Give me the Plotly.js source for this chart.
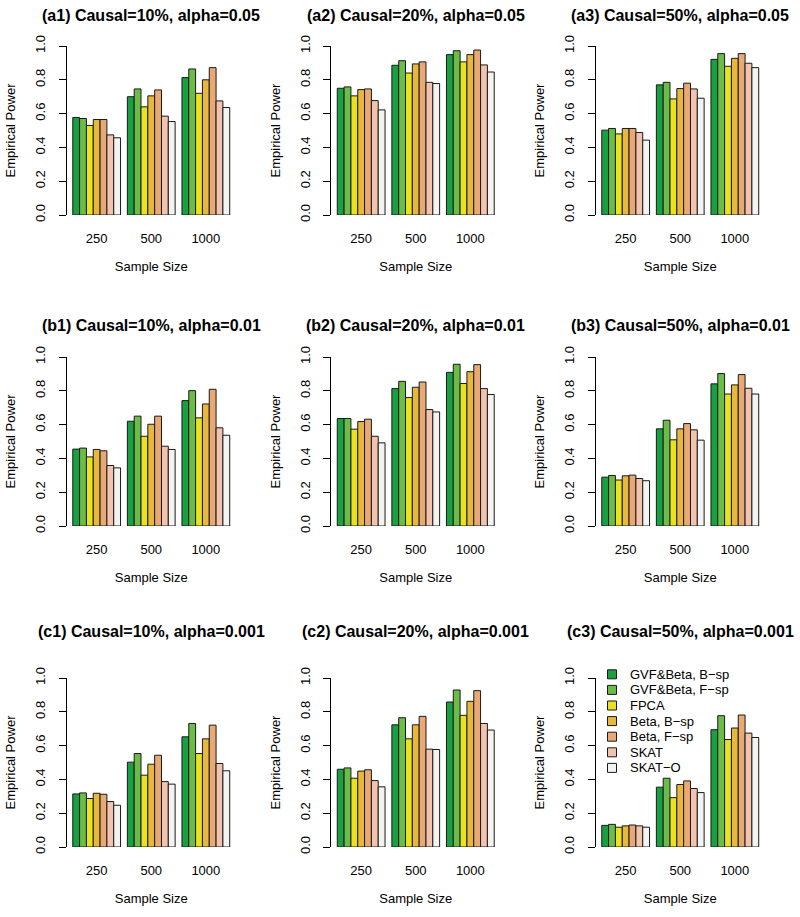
<!DOCTYPE html>
<html>
<head>
<meta charset="utf-8">
<script src="https://cdn.plot.ly/plotly-3.0.1.min.js"></script>
<style>html,body{margin:0;padding:0;background:#fff;}#chart{width:800px;height:917px;}</style>
</head>
<body>
<div id="chart"></div>
<script>
// ---------- data ----------
const sampleSizes = ["250", "500", "1000"];
const methods = ["GVF&Beta, B\u2212sp", "GVF&Beta, F\u2212sp", "FPCA", "Beta, B\u2212sp", "Beta, F\u2212sp", "SKAT", "SKAT\u2212O"];
const colors = ["#19a040", "#6cbd48", "#e8e31e", "#e8b83e", "#e9a975", "#f2c3ae", "#f3f3f1"];
const yTicks = [0, 0.2, 0.4, 0.6, 0.8, 1.0];
const yTickText = ["0.0", "0.2", "0.4", "0.6", "0.8", "1.0"];

const panelTitles = [
  "(a1) Causal=10%, alpha=0.05", "(a2) Causal=20%, alpha=0.05", "(a3) Causal=50%, alpha=0.05",
  "(b1) Causal=10%, alpha=0.01", "(b2) Causal=20%, alpha=0.01", "(b3) Causal=50%, alpha=0.01",
  "(c1) Causal=10%, alpha=0.001", "(c2) Causal=20%, alpha=0.001", "(c3) Causal=50%, alpha=0.001"
];

// each panel: one row per method, values for sample sizes 250, 500, 1000
const a1 = [[0.577, 0.700, 0.813], [0.571, 0.746, 0.864], [0.530, 0.640, 0.720], [0.565, 0.705, 0.800], [0.565, 0.740, 0.872], [0.474, 0.585, 0.675], [0.457, 0.553, 0.636]];
const a2 = [[0.750, 0.886, 0.949], [0.758, 0.913, 0.972], [0.705, 0.840, 0.906], [0.742, 0.894, 0.949], [0.746, 0.906, 0.976], [0.677, 0.785, 0.888], [0.622, 0.778, 0.846]];
const a3 = [[0.502, 0.770, 0.921], [0.512, 0.785, 0.955], [0.480, 0.687, 0.880], [0.512, 0.748, 0.927], [0.512, 0.780, 0.955], [0.488, 0.746, 0.898], [0.443, 0.691, 0.872]];
const b1 = [[0.455, 0.620, 0.742], [0.461, 0.650, 0.801], [0.409, 0.531, 0.640], [0.453, 0.602, 0.722], [0.445, 0.650, 0.809], [0.358, 0.472, 0.581], [0.344, 0.453, 0.537]];
const b2 = [[0.636, 0.813, 0.909], [0.636, 0.856, 0.957], [0.573, 0.760, 0.843], [0.618, 0.821, 0.913], [0.632, 0.852, 0.955], [0.531, 0.689, 0.813], [0.492, 0.675, 0.778]];
const b3 = [[0.289, 0.575, 0.841], [0.299, 0.626, 0.902], [0.272, 0.510, 0.781], [0.297, 0.575, 0.835], [0.301, 0.606, 0.896], [0.281, 0.569, 0.815], [0.268, 0.508, 0.781]];
const c1 = [[0.314, 0.502, 0.652], [0.320, 0.553, 0.731], [0.287, 0.425, 0.553], [0.318, 0.490, 0.640], [0.312, 0.543, 0.721], [0.269, 0.387, 0.494], [0.247, 0.372, 0.451]];
const c2 = [[0.460, 0.723, 0.858], [0.468, 0.765, 0.929], [0.407, 0.640, 0.779], [0.449, 0.723, 0.862], [0.457, 0.773, 0.925], [0.393, 0.579, 0.731], [0.356, 0.577, 0.692]];
const c3 = [[0.128, 0.354, 0.694], [0.134, 0.407, 0.777], [0.117, 0.292, 0.636], [0.125, 0.370, 0.704], [0.130, 0.391, 0.781], [0.125, 0.346, 0.674], [0.117, 0.322, 0.648]];
const panels = [a1, a2, a3, b1, b2, b3, c1, c2, c3];

// ---------- layout geometry (pixels) ----------
const W = 800, H = 917;
const colOffsets = [0, 264.5, 529];
const plotLeft = 66.5, plotRight = 236;
const rowZero = [215, 526, 847];
const rowTop = [46, 357, 678];
const rowTitleY = [15, 325, 631];
const fx = p => p / W;
const fy = p => 1 - p / H;

const FONT = "Liberation Sans, Arial, Helvetica, sans-serif";
const traces = [];
const layout = {
  width: W, height: H,
  margin: {l: 0, r: 0, t: 0, b: 0},
  paper_bgcolor: "#ffffff", plot_bgcolor: "#ffffff",
  showlegend: false,
  barmode: "group", bargap: 0.125, bargroupgap: 0,
  font: {family: FONT, size: 13, color: "#000"},
  annotations: [], shapes: []
};

panels.forEach((data, p) => {
  const r = Math.floor(p / 3), c = p % 3;
  const n = p + 1;
  const xa = n === 1 ? "x" : "x" + n;
  const ya = n === 1 ? "y" : "y" + n;
  methods.forEach((m, k) => {
    traces.push({
      type: "bar", name: m, x: sampleSizes, y: data[k],
      xaxis: xa, yaxis: ya,
      marker: {color: colors[k], line: {color: "#1a1a1a", width: 1}},
      hoverinfo: "skip"
    });
  });
  const off = colOffsets[c];
  layout["xaxis" + (n === 1 ? "" : n)] = {
    domain: [fx(off + plotLeft), fx(off + plotRight)],
    anchor: ya, type: "category", range: [-0.5525, 2.5525],
    showline: false, showgrid: false, zeroline: false, ticks: "",
    tickfont: {size: 13, color: "#000"}, ticklabelstandoff: 14,
    title: {text: "Sample Size", font: {size: 13, color: "#000"}, standoff: 16},
    fixedrange: true
  };
  layout["yaxis" + (n === 1 ? "" : n)] = {
    domain: [fy(rowZero[r]), fy(rowTop[r])],
    anchor: xa, range: [0, 1],
    tickvals: yTicks, ticktext: yTickText, tickangle: -90,
    ticks: "outside", ticklen: 7, tickcolor: "#000", tickwidth: 1,
    showline: true, linecolor: "#000", linewidth: 1,
    showgrid: false, zeroline: false,
    tickfont: {size: 13, color: "#000"}, ticklabelstandoff: 8,
    title: {text: "Empirical Power", font: {size: 13, color: "#000"}, standoff: 14},
    fixedrange: true
  };
  layout.annotations.push({
    text: "<b>" + panelTitles[p] + "</b>", xref: "paper", yref: "paper",
    x: fx(off + (plotLeft + plotRight) / 2), y: fy(rowTitleY[r]),
    xanchor: "center", yanchor: "middle", showarrow: false,
    font: {family: FONT, size: 16, color: "#000"}
  });
});

// ---------- legend (in panel c3) ----------
const legX = 529 + 83, legY0 = 674.3, legStep = 15.6, sq = 9;
methods.forEach((m, k) => {
  const cy = legY0 + k * legStep;
  layout.shapes.push({
    type: "rect", xref: "paper", yref: "paper",
    x0: fx(legX - sq / 2), x1: fx(legX + sq / 2), y0: fy(cy + sq / 2), y1: fy(cy - sq / 2),
    fillcolor: colors[k], line: {color: "#1a1a1a", width: 1}
  });
  layout.annotations.push({
    text: m, xref: "paper", yref: "paper", x: fx(legX + 16), y: fy(cy),
    xanchor: "left", yanchor: "middle", showarrow: false,
    font: {family: FONT, size: 13, color: "#000"}
  });
});

Plotly.newPlot("chart", traces, layout, {displayModeBar: false, staticPlot: true});
</script>
</body>
</html>
